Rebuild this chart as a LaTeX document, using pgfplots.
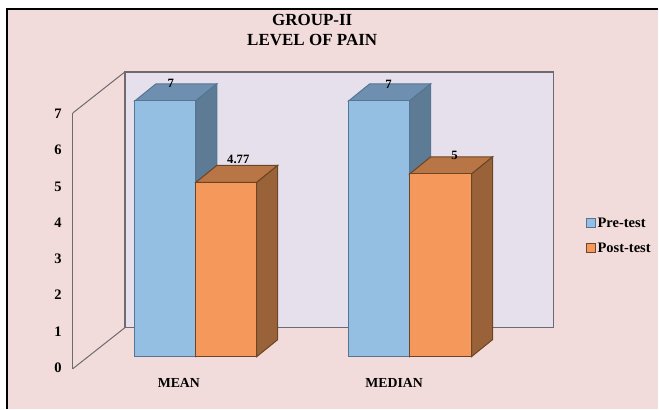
\documentclass[border=0pt]{standalone}
\usepackage{fontspec}
\setmainfont{Liberation Serif}
\usepackage{pgfplots}
\pgfplotsset{compat=1.18}
\definecolor{panel}{HTML}{F2DCDB}
\definecolor{wall}{HTML}{E6E0EC}
\definecolor{wallline}{HTML}{6E6A6E}
\definecolor{preFront}{HTML}{95BEE3}
\definecolor{preTop}{HTML}{6E8FAF}
\definecolor{preSide}{HTML}{5D7B95}
\definecolor{preEdge}{HTML}{557592}
\definecolor{postFront}{HTML}{F4985C}
\definecolor{postTop}{HTML}{B87545}
\definecolor{postSide}{HTML}{9A6238}
\definecolor{postEdge}{HTML}{6B4525}
% Depth of a bar: 21 units across, 0.465 value units up
\newcommand{\barfaces}[6]{%
  \addplot[fill=#4,draw=#6,line width=1pt,forget plot] coordinates
    {(#1,#3) (#2,#3) ({#2+21},{#3+0.465}) ({#1+21},{#3+0.465})} -- cycle;
  \addplot[fill=#5,draw=#6,line width=1pt,forget plot] coordinates
    {(#2,0) ({#2+21},0.465) ({#2+21},{#3+0.465}) (#2,#3)} -- cycle;
}
\begin{document}
\begin{tikzpicture}
% Page, chart panel and its frame
\fill[white] (0pt,0pt) rectangle (659pt,409pt);
\fill[panel] (7pt,0pt) rectangle (659pt,400pt);
\draw[black,line width=1.3pt] (7pt,0pt) -- (7pt,400pt) -- (659pt,400pt);
% Back wall and side wall
\fill[wall] (125pt,81pt) rectangle (554pt,337pt);
\draw[wallline,line width=1.4pt] (125pt,81pt) rectangle (554pt,337pt);
\draw[wallline,line width=1pt] (73pt,296pt) -- (125pt,337pt);
\draw[wallline,line width=1pt] (73pt,40pt) -- (125pt,81pt);
\draw[wallline,line width=1pt] (73pt,40pt) -- (73pt,296pt);
\begin{axis}[
  at={(0pt,0pt)},anchor=south west,
  scale only axis,width=659pt,height=409pt,
  xmin=0,xmax=659,ymin=-1.4219,ymax=9.7621,
  axis y line=none,axis x line=bottom,
  x axis line style={draw=none,-},
  xtick={179,394.5},xticklabels={MEAN,MEDIAN},
  major tick length=0pt,
  xticklabel style={font=\bfseries\fontsize{13.8}{15}\selectfont,anchor=center,yshift=26pt},
  legend cell align=left,
  legend style={at={(586pt,193pt)},anchor=north west,draw=none,fill=none,
    font=\bfseries\fontsize{14.5}{16}\selectfont,
    inner sep=0pt,row sep=10pt,
    /tikz/every even column/.append style={column sep=3pt}},
  legend image code/.code={\draw[#1,line width=1pt] (1.5pt,-4.5pt) rectangle (10.5pt,4.5pt);},
  clip=false,
]
\barfaces{135}{196}{7}{preTop}{preSide}{preEdge}
\barfaces{349}{410}{7}{preTop}{preSide}{preEdge}
\addplot[ybar,bar width=61,bar shift=0pt,fill=preFront,draw=preEdge,line width=1pt]
  coordinates {(165.5,7) (379.5,7)};
\addlegendentry{Pre-test}
\barfaces{196}{257}{4.77}{postTop}{postSide}{postEdge}
\barfaces{410}{472}{5}{postTop}{postSide}{postEdge}
\addplot[ybar,bar width=61,bar shift=0pt,fill=postFront,draw=postEdge,line width=1pt]
  coordinates {(226.5,4.77)};
\addlegendentry{Post-test}
\addplot[ybar,bar width=62,bar shift=0pt,fill=postFront,draw=postEdge,line width=1pt,forget plot]
  coordinates {(441,5)};
% Value labels above the bars
\tikzset{vlabel/.style={font=\bfseries\fontsize{12.7}{14}\selectfont,inner sep=0pt}}
\node[vlabel] at (axis cs:171,7.47) {7};
\node[vlabel] at (axis cs:238.5,5.39) {4.77};
\node[vlabel] at (axis cs:389,7.44) {7};
\node[vlabel] at (axis cs:455,5.50) {5};
% Chart title
\node[font=\bfseries\fontsize{17}{20.5}\selectfont,align=center] at (axis cs:312.5,{(357-30)/36.57}) {GROUP-II\\LEVEL OF PAIN};
\end{axis}
% Value axis beside the front edge of the side wall
\begin{axis}[
  at={(73pt,41pt)},anchor=south west,
  scale only axis,width=52pt,height=254pt,
  xmin=0,xmax=1,ymin=0,ymax=7,
  axis x line=none,axis y line*=left,
  y axis line style={draw=none,-},
  ytick={0,...,7},major tick length=0pt,
  yticklabel style={font=\bfseries\fontsize{14.5}{16}\selectfont,anchor=east,inner sep=0pt,xshift=-11pt},
  /pgf/number format/assume math mode=true,
]
\end{axis}
\end{tikzpicture}
\end{document}
